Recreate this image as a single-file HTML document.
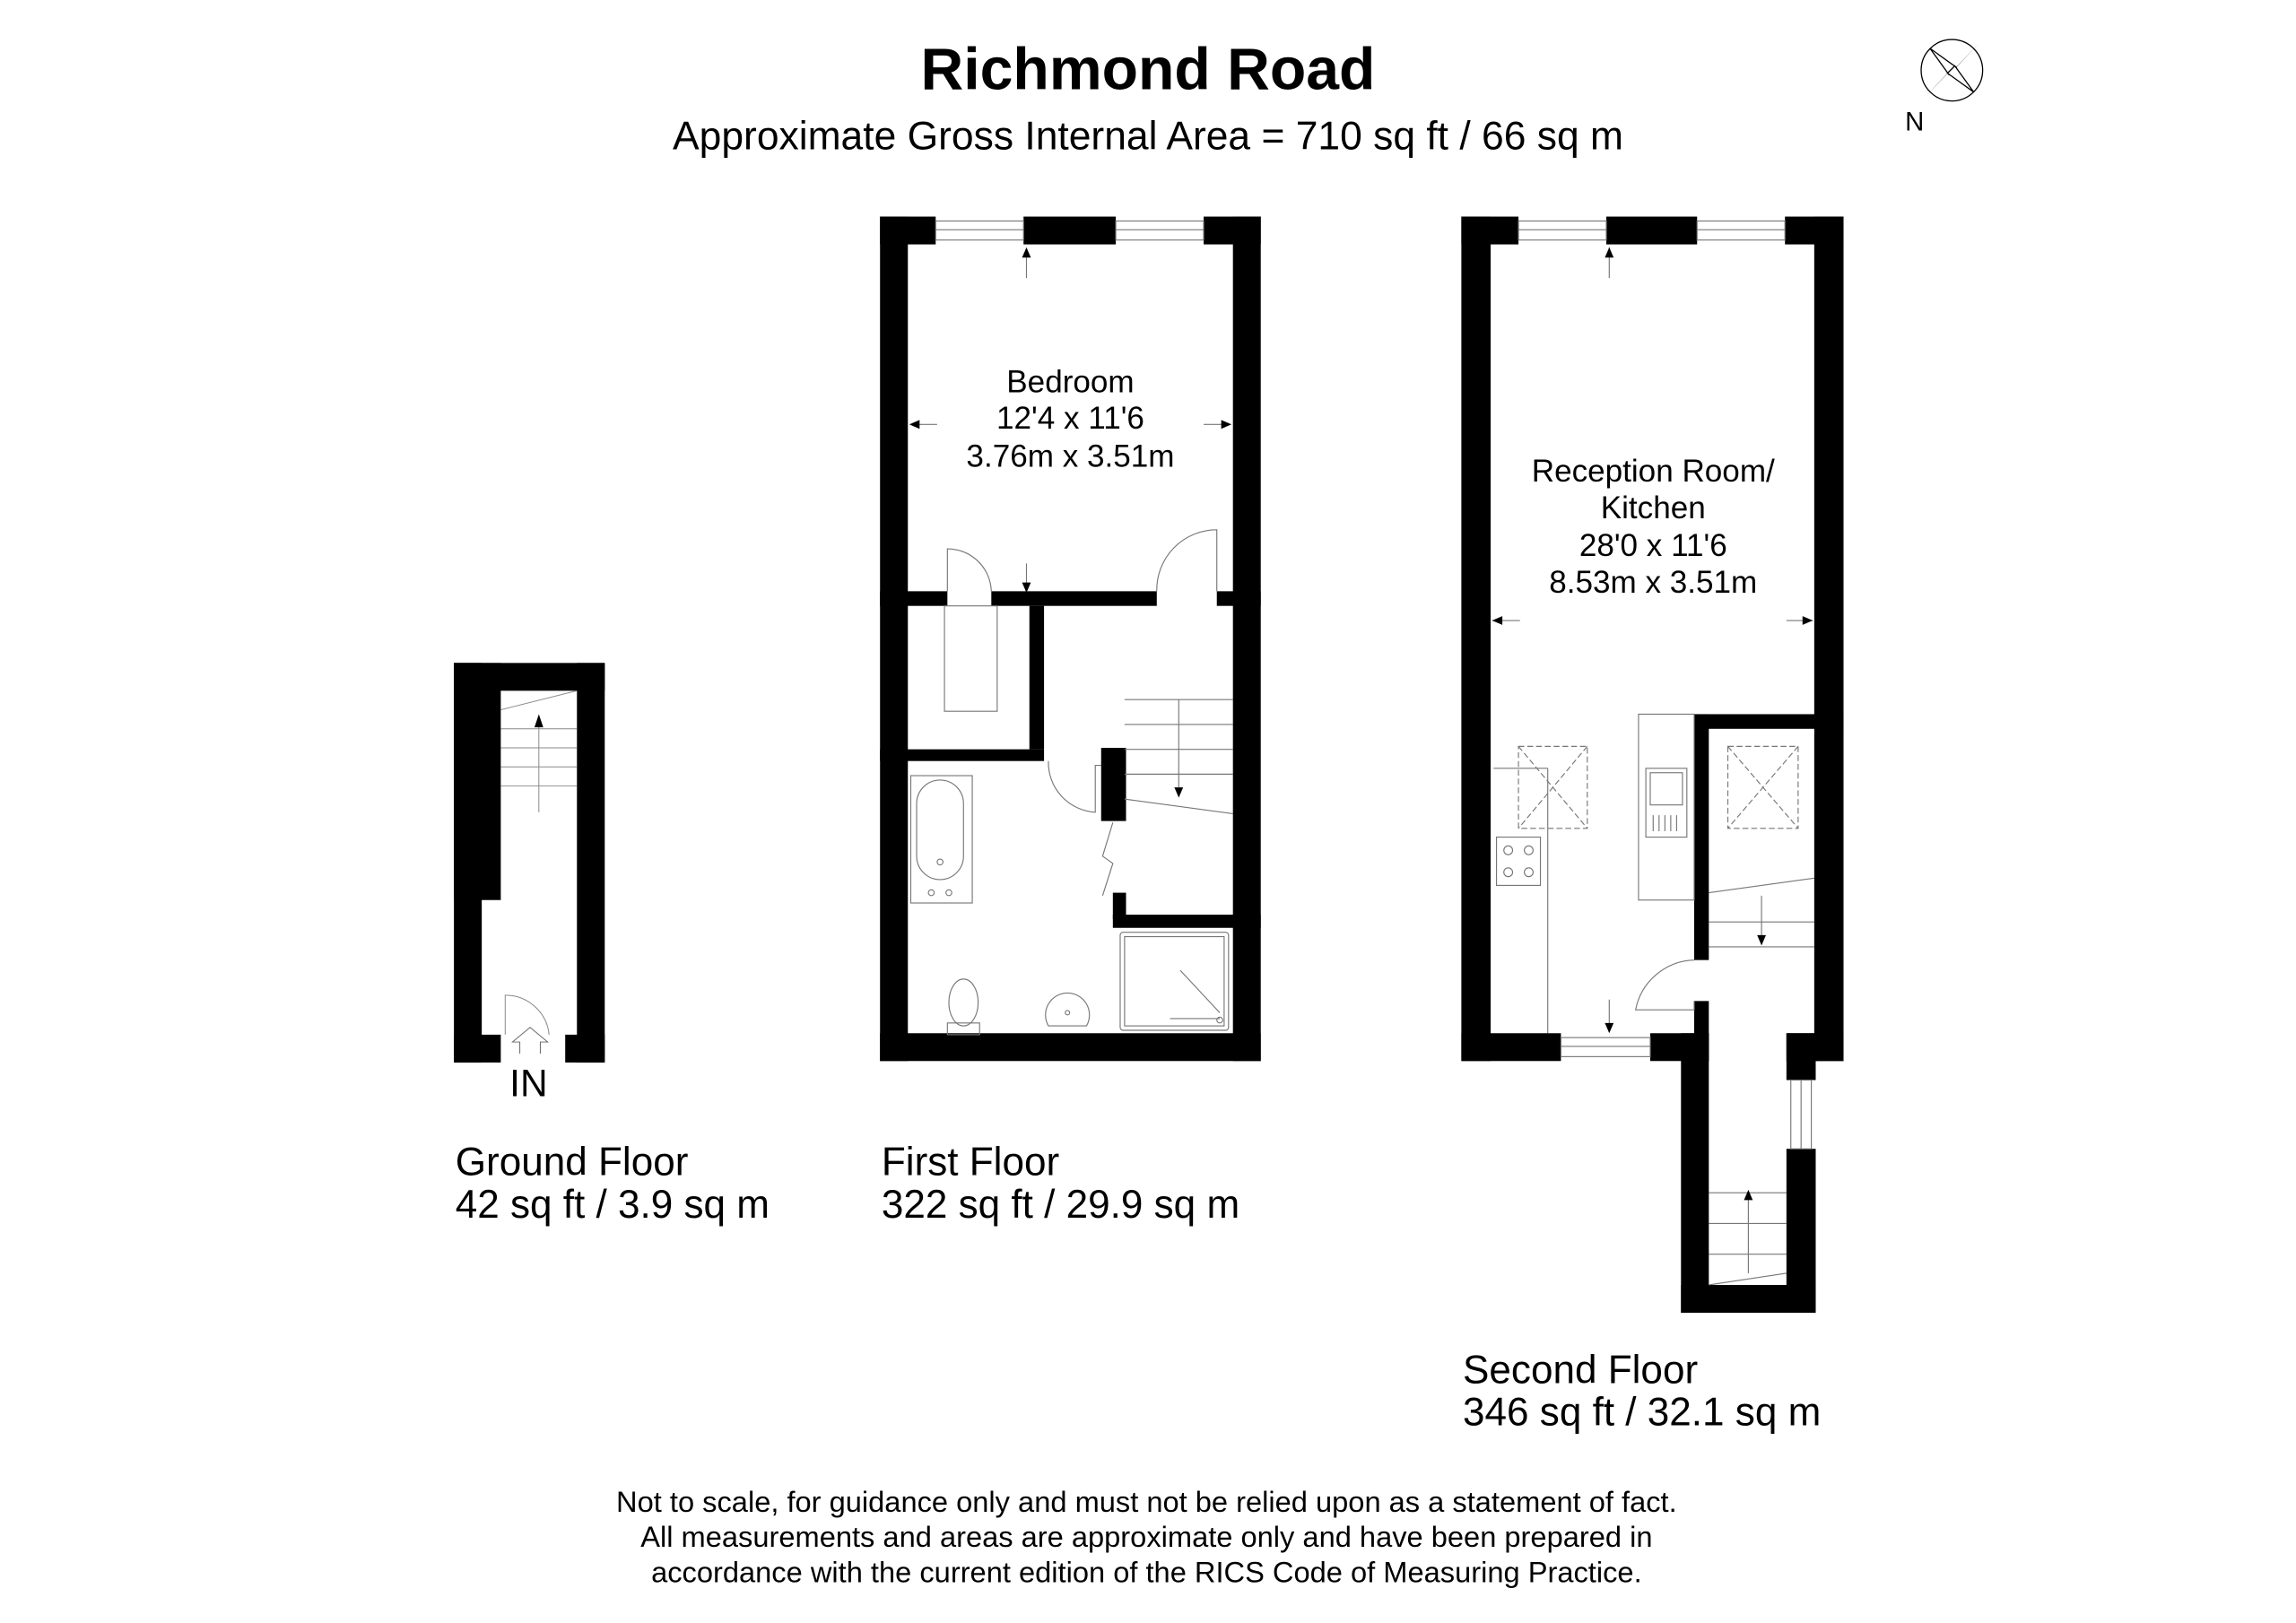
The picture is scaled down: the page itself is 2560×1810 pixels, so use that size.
<!DOCTYPE html>
<html><head><meta charset="utf-8"><style>
html,body{margin:0;padding:0;background:#fff;}
svg{display:block;}
text{font-family:"Liberation Sans",Arial,sans-serif;fill:#000;}
</style></head><body>
<svg width="2560" height="1810" viewBox="0 0 1568 1109" preserveAspectRatio="none" xmlns="http://www.w3.org/2000/svg">
<rect width="1568" height="1109" fill="#fff"/>
<text x="784" y="61" font-size="40.5" font-weight="bold" text-anchor="middle">Richmond Road</text>
<text x="784" y="102" font-size="27.2" text-anchor="middle">Approximate Gross Internal Area = 710 sq ft / 66 sq m</text>
<g transform="translate(1333,48)">
<circle r="21" fill="none" stroke="#000" stroke-width="0.8"/>
<polygon points="-19,19 -3,2 2,-3" fill="#000"/>
<polygon points="19,-19 3,-2 -2,3" fill="#000"/>
<polygon points="-15,-15 -2,3 3,-2" fill="#fff" stroke="#000" stroke-width="0.8"/>
<polygon points="15,15 2,-3 -3,2" fill="#fff" stroke="#000" stroke-width="0.8"/>
<text x="-32" y="41" font-size="18">N</text>
</g>

<g fill="#000">
<rect x="310" y="453" width="103" height="19"/>
<rect x="310" y="453" width="32" height="162"/>
<rect x="310" y="453" width="19" height="273"/>
<rect x="394" y="453" width="19" height="273"/>
<rect x="310" y="707" width="32" height="19"/>
<rect x="386" y="707" width="27" height="19"/>
</g>
<g stroke="#888" stroke-width="0.6" fill="none">
<line x1="342" y1="498" x2="394" y2="498"/><line x1="342" y1="511" x2="394" y2="511"/>
<line x1="342" y1="524" x2="394" y2="524"/><line x1="342" y1="537" x2="394" y2="537"/>
<line x1="342" y1="485" x2="394" y2="472"/>
<line x1="368" y1="555" x2="368" y2="492"/>
<path d="M345,707 V680 A30,30 0 0 1 375,707"/>
<path d="M355,720 V712 L350,712 L362,702 L374,712 L369,712 V720" stroke="#666"/>
</g>
<polygon points="368,488 365,497 371,497" fill="#000"/>
<text x="348" y="749" font-size="26">IN</text>
<text x="311" y="803" font-size="27">Ground Floor</text>
<text x="311" y="832" font-size="27">42 sq ft / 3.9 sq m</text>

<g fill="#000">
<rect x="601" y="148" width="19" height="577"/>
<rect x="842" y="148" width="19" height="577"/>
<rect x="601" y="706" width="260" height="19"/>
<rect x="601" y="148" width="38" height="19"/>
<rect x="699" y="148" width="63" height="19"/>
<rect x="822" y="148" width="39" height="19"/>
<rect x="601" y="404" width="46" height="10"/>
<rect x="677" y="404" width="113" height="10"/>
<rect x="831" y="404" width="30" height="10"/>
<rect x="703" y="414" width="10" height="98"/>
<rect x="601" y="512" width="112" height="8"/>
<rect x="752" y="511" width="17" height="50"/>
<rect x="760" y="610" width="9" height="18"/>
<rect x="760" y="625" width="101" height="9"/>
</g>
<g stroke="#777" stroke-width="0.7" fill="none">
<rect x="639" y="151" width="60" height="13"/><line x1="639" y1="157" x2="699" y2="157"/>
<rect x="762" y="151" width="60" height="13"/><line x1="762" y1="157" x2="822" y2="157"/>
<line x1="701" y1="172" x2="701" y2="190"/>
<line x1="701" y1="385" x2="701" y2="403"/>
<line x1="622" y1="290" x2="640" y2="290"/><line x1="822" y1="290" x2="840" y2="290"/>
<path d="M647,404 V375 A30,30 0 0 1 677,404"/>
<path d="M831,404 V362 A41,41 0 0 0 790,404"/>
<rect x="645" y="414" width="36" height="72"/>
<path d="M716,520 A34,34 0 0 0 748,555 V523 H752"/>
<line x1="768" y1="478" x2="842" y2="478"/><line x1="768" y1="495" x2="842" y2="495"/>
<line x1="768" y1="512" x2="842" y2="512"/><line x1="768" y1="529" x2="842" y2="529"/>
<line x1="768" y1="546" x2="842" y2="556"/>
<line x1="805" y1="478" x2="805" y2="540"/>
<path d="M760,562 L753,585 L760,590 L753,612"/>
<rect x="622" y="530" width="42" height="87"/>
<rect x="626" y="533" width="32" height="68" rx="16"/>
<circle cx="642" cy="589" r="2"/><circle cx="636" cy="610" r="2"/><circle cx="648" cy="610" r="2"/>
<rect x="765" y="637" width="74" height="67" rx="2"/>
<rect x="768" y="640" width="68" height="61"/>
<line x1="806" y1="663" x2="833" y2="692"/><line x1="799" y1="696" x2="833" y2="696"/>
<circle cx="833" cy="697" r="2"/>
<ellipse cx="658" cy="685" rx="10" ry="16"/>
<rect x="647" y="699" width="22" height="8"/>
<path d="M716,701 A15,15 0 1 1 742,701 Z"/><circle cx="729" cy="692" r="1.5"/>
</g>
<g fill="#000">
<polygon points="701,169 698,176 704,176"/>
<polygon points="701,405 698,398 704,398"/>
<polygon points="621,290 628,287 628,293"/>
<polygon points="841,290 834,287 834,293"/>
<polygon points="805,545 802,538 808,538"/>
</g>
<text x="731" y="268" font-size="21.5" text-anchor="middle">Bedroom</text>
<text x="731" y="293" font-size="21.5" text-anchor="middle">12'4 x 11'6</text>
<text x="731" y="319" font-size="21.5" text-anchor="middle">3.76m x 3.51m</text>
<text x="602" y="803" font-size="27">First Floor</text>
<text x="602" y="832" font-size="27">322 sq ft / 29.9 sq m</text>

<g fill="#000">
<rect x="998" y="148" width="20" height="577"/>
<rect x="1239" y="148" width="20" height="577"/>
<rect x="998" y="148" width="39" height="19"/>
<rect x="1097" y="148" width="62" height="19"/>
<rect x="1219" y="148" width="40" height="19"/>
<rect x="998" y="706" width="68" height="19"/>
<rect x="1127" y="706" width="40" height="19"/>
<rect x="1220" y="706" width="39" height="19"/>
<rect x="1157" y="488" width="102" height="10"/>
<rect x="1157" y="488" width="10" height="168"/>
<rect x="1157" y="684" width="10" height="41"/>
<rect x="1148" y="706" width="19" height="191"/>
<rect x="1220" y="706" width="20" height="32"/>
<rect x="1220" y="785" width="20" height="112"/>
<rect x="1148" y="878" width="92" height="19"/>
</g>
<g stroke="#777" stroke-width="0.7" fill="none">
<rect x="1037" y="151" width="60" height="13"/><line x1="1037" y1="157" x2="1097" y2="157"/>
<rect x="1159" y="151" width="60" height="13"/><line x1="1159" y1="157" x2="1219" y2="157"/>
<rect x="1066" y="709" width="61" height="13"/><line x1="1066" y1="715" x2="1127" y2="715"/>
<rect x="1223" y="738" width="14" height="47"/><line x1="1230" y1="738" x2="1230" y2="785"/>
<line x1="1099" y1="169" x2="1099" y2="190"/>
<line x1="1099" y1="683" x2="1099" y2="704"/>
<line x1="1019" y1="424" x2="1038" y2="424"/><line x1="1220" y1="424" x2="1238" y2="424"/>
<line x1="1020" y1="525" x2="1057" y2="525"/><line x1="1057" y1="525" x2="1057" y2="706"/>
<rect x="1022" y="572" width="30" height="33"/>
<circle cx="1030" cy="581" r="3"/><circle cx="1044" cy="581" r="3"/>
<circle cx="1030" cy="596" r="3"/><circle cx="1044" cy="596" r="3"/>
<rect x="1037" y="510" width="47" height="56" stroke-dasharray="4,2"/>
<path d="M1037,510 L1084,566 M1084,510 L1037,566" stroke-dasharray="4,2"/>
<rect x="1119" y="488" width="38" height="127"/>
<rect x="1124" y="525" width="28" height="47"/>
<rect x="1127" y="528" width="22" height="22"/>
<path d="M1129,557 V568 M1133,557 V568 M1137,557 V568 M1141,557 V568 M1145,557 V568"/>
<rect x="1180" y="510" width="48" height="56" stroke-dasharray="4,2"/>
<path d="M1180,510 L1228,566 M1228,510 L1180,566" stroke-dasharray="4,2"/>
<line x1="1167" y1="610" x2="1239" y2="600"/>
<line x1="1167" y1="630" x2="1239" y2="630"/><line x1="1167" y1="647" x2="1239" y2="647"/>
<line x1="1203" y1="612" x2="1203" y2="640"/>
<path d="M1157,656 A42,42 0 0 0 1117,690 H1157 V684"/>
<line x1="1167" y1="815" x2="1220" y2="815"/><line x1="1167" y1="836" x2="1220" y2="836"/>
<line x1="1167" y1="857" x2="1220" y2="857"/><line x1="1167" y1="878" x2="1220" y2="870"/>
<line x1="1194" y1="870" x2="1194" y2="818"/>
</g>
<g fill="#000">
<polygon points="1099,169 1096,176 1102,176"/>
<polygon points="1099,706 1096,699 1102,699"/>
<polygon points="1019,424 1026,421 1026,427"/>
<polygon points="1238,424 1231,421 1231,427"/>
<polygon points="1203,646 1200,639 1206,639"/>
<polygon points="1194,813 1191,820 1197,820"/>
</g>
<text x="1129" y="329" font-size="21.5" text-anchor="middle">Reception Room/</text>
<text x="1129" y="354" font-size="21.5" text-anchor="middle">Kitchen</text>
<text x="1129" y="380" font-size="21.5" text-anchor="middle">28'0 x 11'6</text>
<text x="1129" y="405" font-size="21.5" text-anchor="middle">8.53m x 3.51m</text>
<text x="999" y="945" font-size="27">Second Floor</text>
<text x="999" y="974" font-size="27">346 sq ft / 32.1 sq m</text>

<text x="783" y="1033" font-size="20" text-anchor="middle">Not to scale, for guidance only and must not be relied upon as a statement of fact.</text>
<text x="783" y="1057" font-size="20" text-anchor="middle">All measurements and areas are approximate only and have been prepared in</text>
<text x="783" y="1081" font-size="20" text-anchor="middle">accordance with the current edition of the RICS Code of Measuring Practice.</text>
</svg>
</body></html>
